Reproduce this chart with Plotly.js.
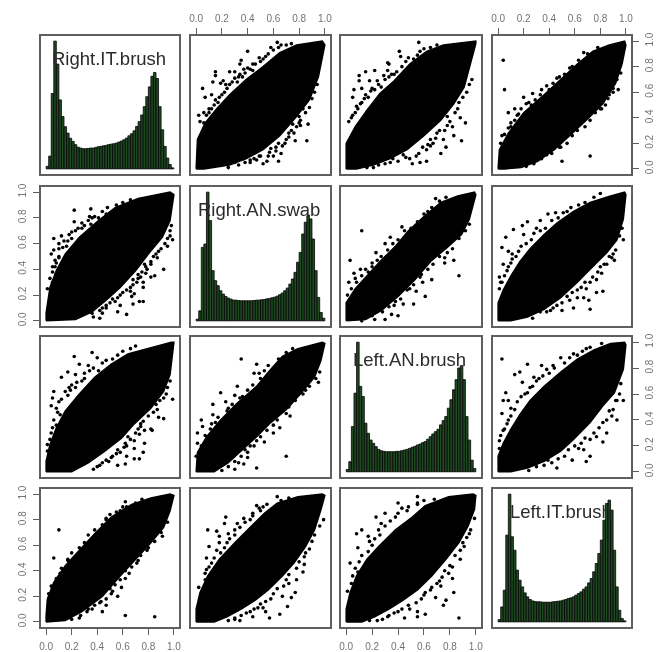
<!DOCTYPE html>
<html><head><meta charset="utf-8">
<script src="https://cdn.plot.ly/plotly-3.0.1.min.js"></script>
<style>html,body{margin:0;padding:0;background:#fff}#chart{width:665px;height:652px;filter:blur(0.65px)}</style>
</head><body><div id="chart"></div>
<script>
// Variable names (diagonal labels)
const varNames = ["Right.IT.brush","Right.AN.swab","Left.AN.brush","Left.IT.brush"];
const tickValues = [0,0.2,0.4,0.6,0.8,1];
const tickLabels = ["0.0","0.2","0.4","0.6","0.8","1.0"];

// Histogram bar heights (relative to the tallest bar), 50 bins on [0,1]
const histRightIT = [.02,.10,.59,1.0,.82,.54,.41,.33,.28,.24,.215,.19,.17,.163,.158,.158,.16,.163,.163,.168,.174,.176,.181,.184,.19,.194,.197,.202,.21,.218,.228,.241,.259,.275,.298,.332,.37,.422,.487,.565,.642,.725,.754,.707,.487,.306,.176,.085,.034,.008];
const histRightAN = [.013,.078,.571,.597,1,.779,.39,.312,.273,.234,.208,.19,.177,.169,.161,.161,.158,.156,.156,.156,.156,.156,.158,.161,.161,.164,.166,.171,.174,.179,.184,.192,.203,.216,.234,.255,.286,.325,.377,.455,.532,.675,.766,.818,.792,.636,.39,.182,.065,.021];
const histLeftAN = [.018,.078,.349,.607,1,.659,.581,.375,.297,.245,.22,.194,.173,.163,.158,.155,.155,.155,.155,.158,.158,.163,.168,.173,.181,.189,.196,.207,.214,.225,.233,.251,.271,.292,.31,.328,.362,.395,.426,.491,.556,.633,.711,.801,.819,.711,.426,.245,.09,.026];
const histLeftIT = [.018,.117,.248,.679,1,.666,.561,.405,.326,.274,.227,.196,.175,.164,.159,.157,.157,.154,.154,.154,.154,.157,.159,.162,.164,.17,.175,.183,.188,.196,.209,.222,.235,.256,.274,.305,.339,.392,.457,.535,.64,.796,.927,.953,.875,.561,.274,.091,.026,.008];
const histBinCenters = [.01,.03,.05,.07,.09,.11,.13,.15,.17,.19,.21,.23,.25,.27,.29,.31,.33,.35,.37,.39,.41,.43,.45,.47,.49,.51,.53,.55,.57,.59,.61,.63,.65,.67,.69,.71,.73,.75,.77,.79,.81,.83,.85,.87,.89,.91,.93,.95,.97,.99];

// Outline of each solid black cloud [x,y]; x = later variable, y = earlier variable
const cloud12 = [[0,0],[.01,.23],[.07,.36],[.16,.47],[.26,.58],[.39,.7],[.52,.8],[.65,.91],[.78,.97],[.98,1],[1,.97],[.95,.72],[.88,.54],[.78,.41],[.65,.26],[.52,.15],[.39,.08],[.26,.03],[.06,0]];
const cloud13 = [[0,0],[0,.2],[.07,.33],[.16,.46],[.26,.59],[.37,.69],[.49,.82],[.62,.92],[.75,.97],[1,1],[1,.98],[.96,.82],[.91,.64],[.83,.51],[.73,.38],[.6,.26],[.47,.15],[.34,.08],[.21,.03],[.08,0]];
const cloud14 = [[0,0],[.01,.15],[.08,.28],[.2,.44],[.36,.58],[.49,.7],[.62,.82],[.74,.92],[.87,.97],[.99,1],[1,.97],[.97,.82],[.92,.67],[.82,.51],[.69,.38],[.56,.26],[.44,.15],[.31,.06],[.18,.01],[.05,0]];
const cloud23 = [[0,0],[0,.14],[.07,.25],[.17,.36],[.27,.47],[.38,.58],[.48,.7],[.6,.81],[.73,.92],[.86,.97],[.99,1],[1,.98],[.95,.79],[.89,.67],[.78,.57],[.66,.47],[.53,.32],[.4,.19],[.27,.08],[.15,.01],[.04,0]];
const cloud24 = [[0,0],[0,.14],[.04,.24],[.1,.35],[.17,.46],[.25,.56],[.36,.67],[.46,.76],[.59,.85],[.72,.92],[.88,.97],[.99,1],[1,.98],[.98,.79],[.93,.63],[.85,.53],[.75,.43],[.62,.3],[.49,.18],[.36,.09],[.23,.03],[.1,0]];
const cloud34 = [[0,0],[0,.12],[.04,.22],[.1,.33],[.17,.44],[.25,.55],[.36,.66],[.49,.77],[.62,.87],[.75,.94],[.88,.99],[.99,1],[1,.98],[.98,.79],[.91,.61],[.82,.51],[.72,.38],[.59,.25],[.49,.16],[.36,.08],[.23,.03],[.1,0]];

// Individually visible points [x,y]
const spots12 = [[.63,.99],[.66,.97],[.40,.92],[.49,.87],[.35,.85],[.34,.82],[.26,.76],[.15,.76],[.15,.73],[.21,.69],[.13,.68],[.19,.67],[.05,.63],[.30,.76],[.33,.72],[.37,.78],[.40,.79],[.07,.56],[.12,.58],[.15,.54],[.02,.42],[.06,.44],[.10,.47],[.03,.37],[.06,.36],[.52,.86],[.44,.82],[.58,.95],[.87,.35],[.86,.22],[.81,.34],[.80,.41],[.77,.22],[.70,.23],[.66,.12],[.64,.06],[.62,.14],[.55,.06],[.52,.04],[.42,.05],[.33,.03],[.49,.10],[.72,.28],[.67,.18],[.76,.28],[.81,.38],[.75,.35],[.6,.1],[.37,.08],[.45,.08],[.57,.13],
[.08,.42],[.1,.44],[.12,.47],[.14,.5],[.17,.52],[.18,.56],[.2,.58],[.22,.6],[.24,.63],[.23,.66],[.26,.66],[.28,.68],[.3,.71],[.32,.68],[.34,.74],[.36,.72],[.38,.75],[.42,.78],[.44,.77],[.46,.82],[.5,.84],[.54,.88],[.56,.9],[.6,.93],[.64,.95],[.7,.97],[.74,.98],[.94,.66],[.92,.6],[.9,.55],[.88,.48],[.85,.44],[.83,.47],[.8,.36],[.78,.33],[.74,.3],[.72,.25],[.69,.2],[.64,.2],[.62,.17],[.58,.16],[.56,.1],[.5,.1],[.47,.07],[.42,.07],[.38,.05],[.3,.05],[.25,.01]];
const spots13 = [[.56,.99],[.41,.92],[.32,.83],[.33,.82],[.42,.88],[.48,.87],[.22,.77],[.32,.77],[.15,.76],[.1,.73],[.1,.69],[.18,.69],[.24,.69],[.06,.62],[.12,.63],[.2,.63],[.05,.56],[.15,.58],[.08,.49],[.02,.37],[.05,.42],[.11,.51],[.29,.73],[.37,.74],[.57,.92],[.92,.36],[.88,.40],[.89,.22],[.83,.26],[.82,.33],[.87,.52],[.77,.17],[.73,.12],[.78,.41],[.7,.28],[.62,.15],[.62,.06],[.57,.05],[.51,.04],[.46,.09],[.34,.05],[.21,.01],[.65,.23],[.75,.23],[.65,.18],
[.04,.4],[.07,.44],[.09,.47],[.12,.52],[.14,.55],[.17,.56],[.19,.61],[.22,.62],[.25,.66],[.27,.64],[.3,.7],[.33,.72],[.35,.74],[.39,.76],[.43,.8],[.46,.84],[.52,.86],[.55,.89],[.6,.94],[.65,.95],[.7,.97],[.97,.7],[.95,.66],[.93,.6],[.9,.56],[.86,.47],[.84,.44],[.8,.37],[.78,.34],[.76,.3],[.72,.3],[.69,.24],[.67,.2],[.63,.19],[.59,.17],[.56,.12],[.54,.1],[.49,.08],[.44,.11],[.4,.06],[.36,.08],[.3,.04],[.25,.03],[.16,.01]];
const spots14 = [[.04,.85],[.05,.62],[.72,.10],[.5,.06],[.2,.56],[.27,.59],[.34,.62],[.38,.65],[.13,.47],[.08,.44],[.15,.42],[.1,.36],[.03,.26],[.67,.91],[.49,.17],[.94,.62],[.9,.63],[.86,.55],[.81,.47],[.26,.5],[.22,.51],[.26,.05],[.46,.71],[.56,.79],
[.02,.2],[.05,.27],[.08,.32],[.1,.33],[.13,.38],[.16,.43],[.18,.47],[.24,.52],[.29,.54],[.33,.58],[.4,.62],[.43,.67],[.48,.72],[.52,.74],[.58,.8],[.63,.85],[.7,.9],[.78,.95],[.96,.75],[.93,.7],[.9,.6],[.87,.58],[.84,.5],[.8,.47],[.76,.44],[.72,.38],[.68,.33],[.62,.3],[.58,.26],[.54,.2],[.48,.17],[.42,.12],[.38,.11],[.34,.08],[.28,.04],[.22,.02]];
const spots23 = [[.12,.70],[.03,.47],[.06,.37],[.02,.3],[.11,.4],[.23,.53],[.3,.6],[.34,.65],[.43,.73],[.69,.95],[.77,.96],[.63,.85],[.83,.47],[.87,.35],[.76,.49],[.76,.45],[.66,.32],[.59,.3],[.61,.19],[.54,.23],[.52,.13],[.4,.04],[.35,.05],[.3,.01],[.44,.13],[.37,.12],[.22,.01],[.49,.25],[.57,.34],[.2,.45],[.15,.4],[.07,.33],
[.01,.2],[.04,.25],[.08,.3],[.12,.35],[.17,.38],[.2,.42],[.24,.47],[.27,.5],[.32,.55],[.36,.6],[.4,.63],[.45,.7],[.5,.72],[.55,.77],[.6,.83],[.66,.88],[.72,.93],[.95,.75],[.92,.7],[.87,.64],[.82,.56],[.78,.53],[.72,.5],[.67,.44],[.63,.4],[.58,.36],[.52,.28],[.47,.24],[.42,.17],[.38,.15],[.33,.11],[.28,.07],[.2,.04],[.12,0]];
const spots24 = [[.33,.78],[.39,.83],[.45,.84],[.19,.74],[.23,.77],[.12,.71],[.06,.65],[.2,.67],[.03,.57],[.08,.54],[.11,.52],[.11,.48],[.04,.44],[.01,.34],[.02,.3],[.07,.39],[.54,.85],[.8,.99],[.98,.63],[.93,.68],[.91,.47],[.89,.49],[.82,.23],[.77,.22],[.72,.09],[.71,.16],[.67,.18],[.59,.1],[.5,.08],[.41,.08],[.62,.18],[.81,.37],[.85,.44],[.77,.32],[.69,.25],[.56,.16],[.28,.68],
[.01,.25],[.03,.3],[.05,.35],[.08,.42],[.1,.45],[.14,.5],[.16,.54],[.18,.58],[.22,.6],[.26,.63],[.3,.72],[.33,.7],[.37,.72],[.42,.78],[.47,.8],[.51,.84],[.57,.88],[.63,.9],[.68,.92],[.75,.96],[.97,.72],[.95,.66],[.92,.55],[.9,.52],[.87,.5],[.83,.44],[.8,.42],[.78,.38],[.74,.34],[.72,.3],[.68,.3],[.65,.26],[.62,.24],[.58,.22],[.54,.19],[.5,.14],[.46,.12],[.43,.1],[.38,.07],[.33,.07],[.27,.02]];
const spots34 = [[.03,.87],[.23,.83],[.13,.75],[.17,.77],[.19,.69],[.34,.82],[.38,.79],[.43,.82],[.49,.88],[.06,.61],[.04,.55],[.08,.55],[.03,.45],[.1,.49],[.04,.32],[.01,.18],[.08,.4],[.59,.91],[.69,.95],[.81,.99],[.98,.55],[.93,.55],[.93,.4],[.89,.43],[.85,.3],[.82,.23],[.77,.27],[.69,.08],[.72,.12],[.63,.18],[.58,.09],[.46,.03],[.39,.09],[.51,.23],[.67,.17],[.28,.73],[.3,.7],[.23,.61],
[.01,.24],[.02,.28],[.05,.33],[.07,.37],[.1,.43],[.13,.48],[.15,.54],[.18,.58],[.21,.6],[.25,.65],[.27,.66],[.32,.72],[.35,.74],[.4,.76],[.44,.8],[.52,.84],[.56,.88],[.62,.9],[.66,.93],[.72,.96],[.96,.68],[.95,.6],[.92,.55],[.9,.48],[.87,.47],[.85,.4],[.82,.38],[.79,.34],[.75,.3],[.72,.25],[.68,.26],[.65,.22],[.6,.2],[.55,.17],[.52,.12],[.47,.1],[.42,.07],[.36,.05],[.3,.04],[.24,.01]];

const hists = [histRightIT,histRightAN,histLeftAN,histLeftIT];
const clouds = {"01":cloud12,"02":cloud13,"03":cloud14,"12":cloud23,"13":cloud24,"23":cloud34};
const spots = {"01":spots12,"02":spots13,"03":spots14,"12":spots23,"13":spots24,"23":spots34};

// Panel boxes in page pixels
const W = 665, H = 652;
const colEdges = [[41,179],[191,330],[341,481],[493,631]];
const rowEdges = [[36,174],[187,326],[337,477],[489,627]];
const axisRange = [-0.04,1.04];
const frameColor = "#5f5f5f", tickTextColor = "#727272", fontName = "Liberation Sans, Arial, sans-serif";

const traces = [], annotations = [], layout = {
  width:W, height:H, margin:{l:0,r:0,t:0,b:0}, showlegend:false,
  paper_bgcolor:"#fff", plot_bgcolor:"#fff", bargap:0, annotations
};

function baseAxis(range){
  return {range, showgrid:false, zeroline:false, showline:true, mirror:true,
    linecolor:frameColor, linewidth:1.6, fixedrange:true,
    tickvals:tickValues, ticktext:tickLabels, ticks:"", showticklabels:false,
    tickfont:{family:fontName,size:10,color:tickTextColor}, tickcolor:frameColor, ticklen:6, tickwidth:1};
}

for (let r=0;r<4;r++) for (let c=0;c<4;c++){
  const n = r*4+c+1, xa="x"+n, ya="y"+n;
  const xAxis = baseAxis(axisRange), yAxis = baseAxis(axisRange);
  xAxis.domain = [colEdges[c][0]/W, colEdges[c][1]/W];
  yAxis.domain = [1-rowEdges[r][1]/H, 1-rowEdges[r][0]/H];
  xAxis.anchor = ya; yAxis.anchor = xa;
  if (r===0 && c%2===1){ xAxis.side="top"; xAxis.ticks="outside"; xAxis.showticklabels=true; xAxis.ticklabelstandoff=2; }
  if (r===3 && c%2===0){ xAxis.side="bottom"; xAxis.ticks="outside"; xAxis.showticklabels=true; xAxis.ticklabelstandoff=3; }
  if (c===0 && r%2===1){ yAxis.side="left"; yAxis.ticks="outside"; yAxis.showticklabels=true; yAxis.tickangle=-90; yAxis.ticklabelstandoff=3; }
  if (c===3 && r%2===0){ yAxis.side="right"; yAxis.ticks="outside"; yAxis.showticklabels=true; yAxis.tickangle=-90; yAxis.ticklabelstandoff=2; }
  layout["xaxis"+n]=xAxis; layout["yaxis"+n]=yAxis;

  if (r===c){
    traces.push({type:"bar",x:histBinCenters,y:hists[r],width:0.02,xaxis:xa,yaxis:ya,
      marker:{color:"#1f4a22",line:{color:"#050505",width:0.8}}});
    annotations.push({xref:xa,yref:ya,x:0.49,y:0.865,text:varNames[r],showarrow:false,
      font:{family:fontName,size:18.5,color:"#2b2b2b"}});
  } else {
    const key = Math.min(r,c)+""+Math.max(r,c), upper = r<c;
    const px = p => upper ? p[0] : p[1], py = p => upper ? p[1] : p[0];
    const outline = clouds[key].concat([clouds[key][0]]);
    traces.push({type:"scatter",mode:"lines",x:outline.map(px),y:outline.map(py),fill:"toself",
      fillcolor:"#000",line:{color:"#000",width:1.5},xaxis:xa,yaxis:ya});
    traces.push({type:"scatter",mode:"markers",x:spots[key].map(px),y:spots[key].map(py),
      marker:{color:"#000",size:3.6},xaxis:xa,yaxis:ya});
  }
}
Plotly.newPlot("chart",traces,layout,{displayModeBar:false,staticPlot:true});
</script></body></html>
